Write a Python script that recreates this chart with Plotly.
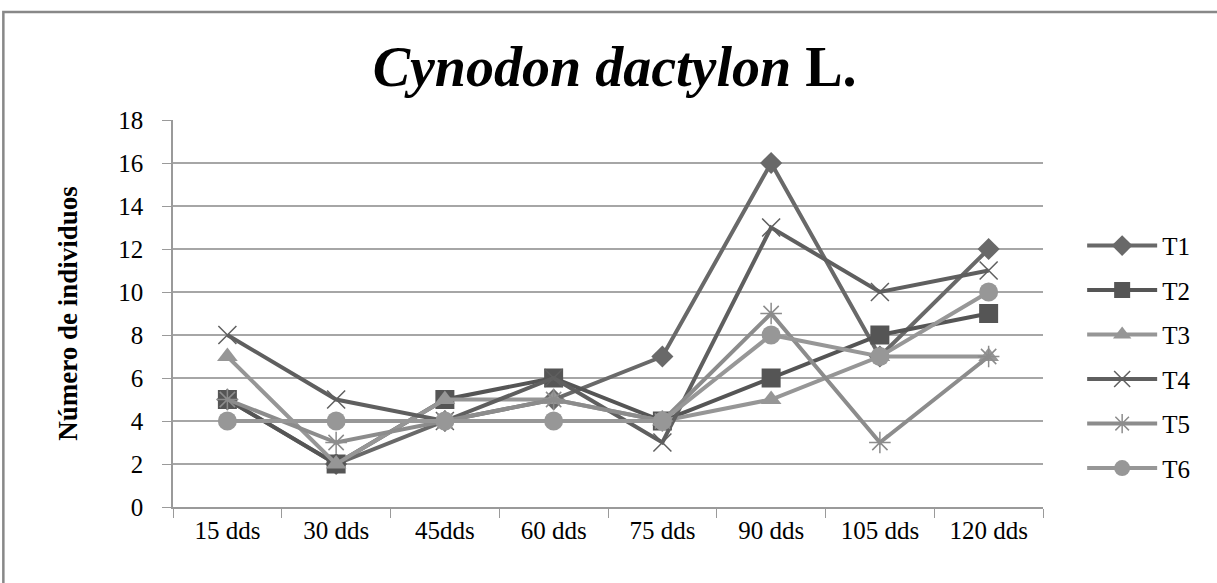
import plotly.graph_objects as go

# Datos
dias = ['15 dds', '30 dds', '45dds', '60 dds', '75 dds', '90 dds', '105 dds', '120 dds']
t1 = [5, 2, 4, 5, 7, 16, 7, 12]
t2 = [5, 2, 5, 6, 4, 6, 8, 9]
t3 = [7, 2, 5, 5, 4, 5, 7, 7]
t4 = [8, 5, 4, 6, 3, 13, 10, 11]
t5 = [5, 3, 4, 5, 4, 9, 3, 7]
t6 = [4, 4, 4, 4, 4, 8, 7, 10]

series = [
    ('T1', t1, '#696969', 'diamond', 17),
    ('T2', t2, '#555555', 'square', 19),
    ('T3', t3, '#969696', 'triangle-up', 18),
    ('T4', t4, '#5f5f5f', 'x-thin-open', 18),
    ('T5', t5, '#8c8c8c', 'asterisk-open', 18),
    ('T6', t6, '#979797', 'circle', 19),
]

fig = go.Figure()
for nombre, vals, color, simbolo, tam in series:
    thin = simbolo.endswith('-open')
    fig.add_trace(go.Scatter(
        x=dias, y=vals, name=nombre, mode='lines+markers',
        legendgroup=nombre,
        line=dict(color=color, width=4),
        marker=dict(symbol=simbolo, size=tam, color=color,
                    line=dict(width=1.5 if thin else 0, color='#9a9a9a' if thin else color)),
    ))

fig.update_layout(
    width=1217, height=583,
    paper_bgcolor='white', plot_bgcolor='white',
    margin=dict(l=173, r=174, t=120, b=76),
    font=dict(family='Liberation Serif, Times New Roman, serif', color='black'),
    title=dict(text='<b><i>Cynodon dactylon</i> L.</b>', x=0.505, xanchor='center',
               y=0.886, yanchor='middle', font=dict(size=56)),
    legend=dict(x=1.045, y=0.388, xanchor='left', yanchor='middle',
                font=dict(size=25), itemwidth=70, tracegroupgap=9,
                bgcolor='rgba(0,0,0,0)'),
    showlegend=True,
)

fig.update_xaxes(type='category', range=[-0.5, 7.5], tickson='boundaries',
                 ticks='outside', ticklen=9, tickcolor='#9a9a9a',
                 showline=True, linecolor='#9a9a9a', linewidth=1.5,
                 showgrid=False, tickfont=dict(size=25))
fig.update_yaxes(range=[0, 18], dtick=2, ticks='outside', ticklen=9, tickcolor='#9a9a9a',
                 showline=True, linecolor='#9a9a9a', linewidth=1.5,
                 showgrid=True, gridcolor='#a6a6a6', gridwidth=1.5,
                 zeroline=False, tickfont=dict(size=25), ticklabelstandoff=14,
                 title=dict(text='<b>Número de individuos</b>', font=dict(size=27), standoff=33))

# marco exterior del gráfico
fig.add_shape(type='rect', xref='paper', yref='paper',
              x0=-0.195, x1=1.215, y0=-0.24, y1=1.279,
              line=dict(color='#888888', width=2.5), layer='below')

fig.write_html('out.html', config={'displayModeBar': False},
               post_script="document.body.style.margin='0px';")
